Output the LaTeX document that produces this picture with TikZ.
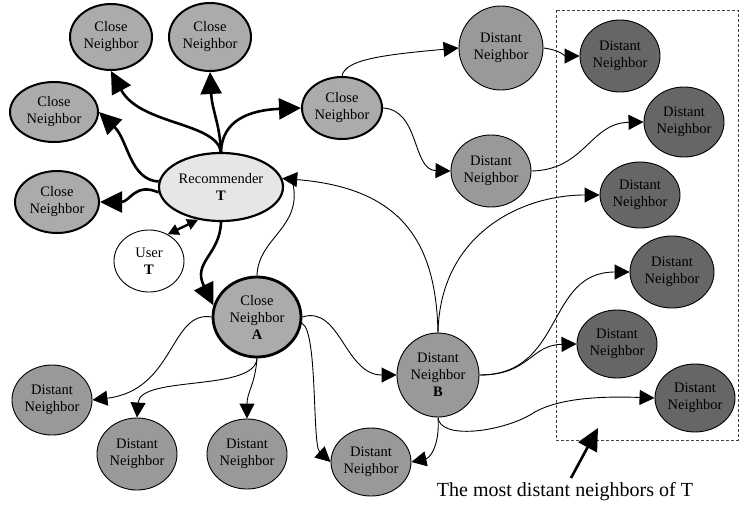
\documentclass[tikz,border=0pt]{standalone}
\usepackage{fontspec}
\setmainfont{Liberation Serif}
\usetikzlibrary{shapes.geometric,arrows.meta}
\definecolor{recfill}{HTML}{E6E6E6}
\definecolor{closefill}{HTML}{ABABAB}
\definecolor{distfill}{HTML}{999999}
\definecolor{farfill}{HTML}{666666}
\tikzset{
  nd/.style={ellipse,draw=black,inner sep=0pt,align=center,font=\fontsize{14.5}{17}\selectfont},
  closenode/.style={nd,fill=closefill,line width=2pt},
  distnode/.style={nd,fill=distfill,line width=0.9pt},
  farnode/.style={nd,fill=farfill,line width=0.9pt},
  recnode/.style={nd,fill=recfill,line width=2.2pt},
  usernode/.style={nd,fill=white,line width=0.9pt},
  thickarrow/.style={line width=2.6pt,-{Triangle[length=22pt,width=21pt]}},
  thinarrow/.style={line width=0.9pt,-{Triangle[length=15pt,width=15pt]}},
}
\begin{document}
\begin{tikzpicture}[x=1pt,y=-1pt]
\useasboundingbox (0,0) rectangle (739,507);
% dashed region
\draw[line width=0.8pt,draw=black!75,dash pattern=on 3pt off 2pt] (556,10) rectangle (738,440);
% nodes
\node[recnode,minimum width=124pt,minimum height=68pt] (rec) at (221,187) {Recommender\\\textbf{T}};
\node[closenode,minimum width=82pt,minimum height=66pt] (cn1) at (111,37) {Close\\Neighbor};
\node[closenode,minimum width=82pt,minimum height=68pt] (cn2) at (210,37) {Close\\Neighbor};
\node[closenode,minimum width=88pt,minimum height=60pt] (cn3) at (54,112) {Close\\Neighbor};
\node[closenode,minimum width=84pt,minimum height=62pt] (cn4) at (57,202) {Close\\Neighbor};
\node[closenode,minimum width=80pt,minimum height=62pt] (cnr) at (342,108) {Close\\Neighbor};
\node[usernode,minimum width=70pt,minimum height=62pt] (user) at (149,261) {User\\\textbf{T}};
\node[closenode,line width=2.8pt,minimum width=88pt,minimum height=80pt] (cna) at (257,317) {Close\\Neighbor\\\textbf{A}};
\node[distnode,minimum width=84pt,minimum height=84pt] (dn1) at (501,48) {Distant\\Neighbor};
\node[distnode,minimum width=80pt,minimum height=72pt] (dn2) at (491,171) {Distant\\Neighbor};
\node[distnode,minimum width=82pt,minimum height=84pt] (dnb) at (438,375) {Distant\\Neighbor\\\textbf{B}};
\node[distnode,minimum width=80pt,minimum height=68pt] (dnbb) at (371,462) {Distant\\Neighbor};
\node[distnode,minimum width=80pt,minimum height=70pt] (dnl) at (52,400) {Distant\\Neighbor};
\node[distnode,minimum width=80pt,minimum height=72pt] (dnl2) at (137,454) {Distant\\Neighbor};
\node[distnode,minimum width=80pt,minimum height=70pt] (dnl3) at (247,454) {Distant\\Neighbor};
\node[farnode,minimum width=80pt,minimum height=72pt] (d1) at (620,56) {Distant\\Neighbor};
\node[farnode,minimum width=80pt,minimum height=70pt] (d2) at (684,122) {Distant\\Neighbor};
\node[farnode,minimum width=80pt,minimum height=66pt] (d3) at (640,195) {Distant\\Neighbor};
\node[farnode,minimum width=84pt,minimum height=72pt] (d4) at (672,272) {Distant\\Neighbor};
\node[farnode,minimum width=80pt,minimum height=68pt] (d5) at (617,344) {Distant\\Neighbor};
\node[farnode,minimum width=80pt,minimum height=68pt] (d6) at (695,398) {Distant\\Neighbor};
\node[font=\fontsize{20}{24}\selectfont,inner sep=0pt] (lbl) at (565,492) {The most distant neighbors of T};
\coordinate (ls) at (571,478);
\coordinate (lt) at (598,428);
\coordinate (jn) at (293,184);
% thick connectors
\draw[thickarrow] (rec.north) .. controls (220,125) and (212,110) .. (cn2.south);
\draw[thickarrow] (rec.north) .. controls (216,122) and (140,125) .. (cn1.south);
\draw[thickarrow] (rec.north) .. controls (222,120) and (250,110) .. (cnr.west);
\draw[thickarrow] (rec.175) .. controls (130,180) and (128,140) .. (cn3.east);
\draw[thickarrow] (rec.185) .. controls (135,182) and (130,202) .. (cn4.east);
\draw[thickarrow] (rec.south) .. controls (220,255) and (192,262) .. (cna.165);
\draw[line width=2.4pt,{Triangle[length=11pt,width=11pt]}-{Triangle[length=11pt,width=11pt]}] (user.55) -- (rec.235);
% thin connectors
\draw[thinarrow] (cnr.north) .. controls (345,60) and (380,55) .. (dn1.west);
\draw[thinarrow] (cnr.east) .. controls (420,110) and (412,170) .. (dn2.west);
\draw[thinarrow] (dn1.east) .. controls (560,50) and (565,56) .. (d1.west);
\draw[thinarrow] (dn2.east) .. controls (585,170) and (590,123) .. (d2.west);
\draw[line width=0.9pt] (cna.north) .. controls (258,238) and (302,228) .. (jn);
\draw[thinarrow] (dnb.north) .. controls (436,240) and (400,188) .. (rec.8);
\draw[thinarrow] (dnb.north) .. controls (440,235) and (520,195) .. (d3.west);
\draw[thinarrow] (cna.west) .. controls (170,310) and (175,390) .. (dnl.east);
\draw[thinarrow] (cna.south) .. controls (255,392) and (140,375) .. (dnl2.north);
\draw[thinarrow] (cna.south) .. controls (255,385) and (247,392) .. (dnl3.north);
\draw[thinarrow] (cna.-8) .. controls (318,330) and (312,445) .. (dnbb.west);
\draw[thinarrow] (cna.east) .. controls (340,305) and (345,375) .. (dnb.west);
\draw[thinarrow] (dnb.east) .. controls (565,375) and (545,272) .. (d4.west);
\draw[thinarrow] (dnb.east) .. controls (530,375) and (530,345) .. (d5.west);
\draw[thinarrow] (dnb.south) .. controls (440,445) and (430,458) .. (dnbb.east);
\draw[thinarrow] (dnb.south) .. controls (440,440) and (500,432) .. (530,415) .. controls (555,398) and (600,396) .. (d6.west);
% label arrow
\draw[line width=2.6pt,-{Triangle[length=22pt,width=21pt]}] (ls) -- (lt);
\end{tikzpicture}
\end{document}
